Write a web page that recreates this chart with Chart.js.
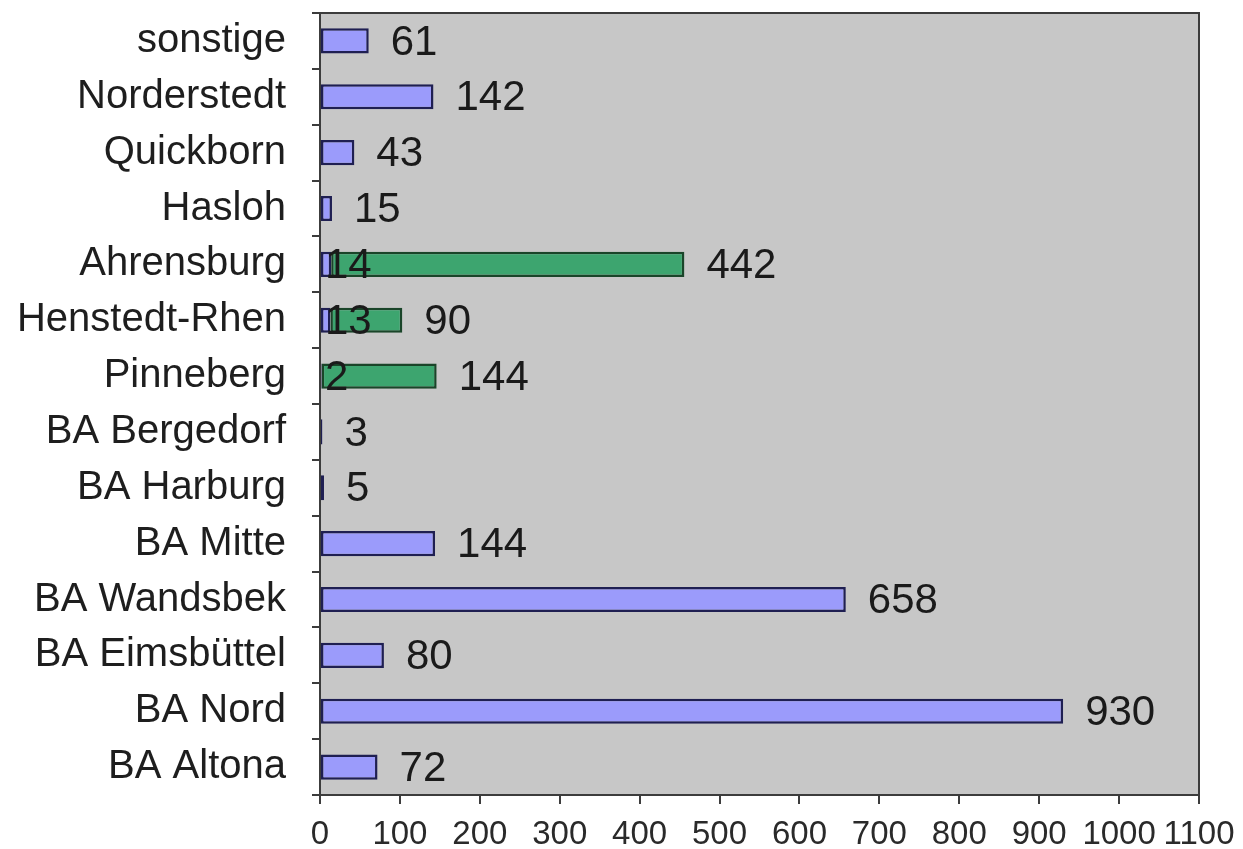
<!DOCTYPE html>
<html>
<head>
<meta charset="utf-8">
<script src="https://cdn.jsdelivr.net/npm/chart.js@4/dist/chart.umd.min.js"></script>
<style>
  html, body { margin: 0; padding: 0; background: #ffffff; }
  #wrap { width: 1243px; height: 849px; }
</style>
</head>
<body>
<div id="wrap"><canvas id="chart"></canvas></div>
<script>
// Standorte, von oben nach unten
var standorte = ["sonstige", "Norderstedt", "Quickborn", "Hasloh", "Ahrensburg", "Henstedt-Rhen", "Pinneberg",
  "BA Bergedorf", "BA Harburg", "BA Mitte", "BA Wandsbek", "BA Eimsbüttel", "BA Nord", "BA Altona"];
var anzahlBlau = [61, 142, 43, 15, 14, 13, 2, 3, 5, 144, 658, 80, 930, 72];
var anzahlGruen = [null, null, null, null, 442, 90, 144, null, null, null, null, null, null, null];
var achseMax = 1100;
var achseSchritt = 100;

var schrift = "'Liberation Sans', Arial, sans-serif";

// grauer Hintergrund der Zeichenfläche mit Rahmen
var flaeche = {
  id: "flaeche",
  beforeDraw: function (chart) {
    var a = chart.chartArea;
    var ctx = chart.ctx;
    ctx.save();
    ctx.fillStyle = "#c7c7c7";
    ctx.fillRect(a.left, a.top, a.right - a.left, a.bottom - a.top);
    ctx.restore();
  },
  afterDraw: function (chart) {
    var a = chart.chartArea;
    var ctx = chart.ctx;
    ctx.save();
    ctx.strokeStyle = "#3c3c3c";
    ctx.lineWidth = 2;
    ctx.strokeRect(a.left, a.top, a.right - a.left, a.bottom - a.top);
    ctx.restore();
  }
};

// Zahlen neben den Balken
var werte = {
  id: "werte",
  afterDatasetsDraw: function (chart) {
    var ctx = chart.ctx;
    var blau = chart.getDatasetMeta(0).data;
    var gruen = chart.getDatasetMeta(1).data;
    ctx.save();
    ctx.font = "42px " + schrift;
    ctx.fillStyle = "#1a1a1a";
    ctx.textBaseline = "middle";
    ctx.textAlign = "left";
    for (var i = 0; i < standorte.length; i++) {
      var b = blau[i];
      if (anzahlGruen[i] != null) {
        var g = gruen[i];
        ctx.fillText(String(anzahlBlau[i]), b.base + 4, b.y + 2);
        ctx.fillText(String(anzahlGruen[i]), g.x + 22, g.y + 2);
      } else {
        ctx.fillText(String(anzahlBlau[i]), b.x + 22, b.y + 2);
      }
    }
    ctx.restore();
  }
};

var ctx = document.getElementById("chart").getContext("2d");
var chart = new Chart(ctx, {
  type: "bar",
  data: {
    labels: standorte,
    datasets: [
      {
        data: anzahlBlau,
        backgroundColor: "#9b9bfb",
        borderColor: "#1f1f52",
        borderWidth: 2.5,
        borderSkipped: false,
        barPercentage: 0.45,
        categoryPercentage: 1
      },
      {
        data: anzahlGruen,
        backgroundColor: "#3da56f",
        borderColor: "#1a4529",
        borderWidth: 2.5,
        borderSkipped: false,
        barPercentage: 0.45,
        categoryPercentage: 1
      }
    ]
  },
  options: {
    indexAxis: "y",
    responsive: true,
    maintainAspectRatio: false,
    animation: false,
    layout: { padding: { top: 13, right: 44, left: 0, bottom: 0 } },
    plugins: {
      legend: { display: false },
      tooltip: { enabled: false }
    },
    scales: {
      x: {
        stacked: true,
        min: 0,
        max: achseMax,
        border: { display: true, color: "#3c3c3c", width: 2 },
        grid: { display: true, drawOnChartArea: false, drawTicks: true, tickLength: 9, color: "#3c3c3c", lineWidth: 2 },
        ticks: {
          stepSize: achseSchritt,
          autoSkip: false,
          maxRotation: 0,
          padding: 11,
          color: "#2a2a2a",
          font: { family: schrift, size: 33 },
          callback: function (v) { return String(v); }
        },
        afterFit: function (scale) {
          scale.height = 54;
          scale.paddingLeft = 0;
          scale.paddingRight = 0;
        }
      },
      y: {
        stacked: true,
        border: { display: true, color: "#3c3c3c", width: 2 },
        grid: { display: true, offset: true, drawOnChartArea: false, drawTicks: true, tickLength: 8, color: "#3c3c3c", lineWidth: 2 },
        ticks: {
          autoSkip: false,
          padding: 26,
          color: "#1e1e1e",
          font: { family: schrift, size: 40 }
        },
        afterFit: function (scale) {
          scale.width = 320;
          scale.paddingTop = 0;
          scale.paddingBottom = 0;
        }
      }
    }
  },
  plugins: [flaeche, werte]
});
</script>
</body>
</html>
